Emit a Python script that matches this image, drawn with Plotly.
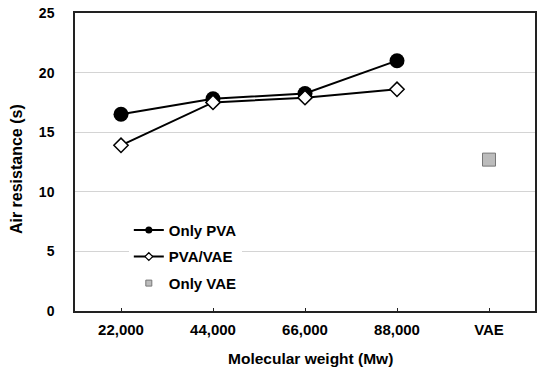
import plotly.graph_objects as go

categories = ["22,000", "44,000", "66,000", "88,000", "VAE"]
pva_x = ["22,000", "44,000", "66,000", "88,000"]
only_pva = [16.5, 17.8, 18.25, 21.0]
pva_vae = [13.9, 17.5, 17.9, 18.6]
vae_x = ["VAE"]
only_vae = [12.7]
y_ticks = [0, 5, 10, 15, 20, 25]

FONT = "Liberation Sans"

fig = go.Figure()

# plotted traces (legend handled by proxy traces below)
fig.add_trace(go.Scatter(x=pva_x, y=only_pva, mode="lines+markers", showlegend=False,
                         line=dict(color="black", width=2),
                         marker=dict(symbol="circle", size=15, color="black")))
fig.add_trace(go.Scatter(x=pva_x, y=pva_vae, mode="lines+markers", showlegend=False,
                         line=dict(color="black", width=2),
                         marker=dict(symbol="diamond", size=11, color="white",
                                     line=dict(color="black", width=1.5))))
fig.add_trace(go.Scatter(x=vae_x, y=only_vae, mode="markers", showlegend=False,
                         marker=dict(symbol="square", size=13, color="#bcbcbc",
                                     line=dict(color="#777777", width=1))))

# legend proxies with small symbols
fig.add_trace(go.Scatter(x=[None], y=[None], mode="lines+markers", name="Only PVA",
                         legendgroup="a",
                         line=dict(color="black", width=2),
                         marker=dict(symbol="circle", size=7, color="black")))
fig.add_trace(go.Scatter(x=[None], y=[None], mode="lines+markers", name="PVA/VAE",
                         legendgroup="b",
                         line=dict(color="black", width=2),
                         marker=dict(symbol="diamond", size=6, color="white",
                                     line=dict(color="black", width=1.2))))
fig.add_trace(go.Scatter(x=[None], y=[None], mode="markers", name="Only VAE",
                         legendgroup="c",
                         marker=dict(symbol="square", size=6, color="#bcbcbc",
                                     line=dict(color="#777777", width=1))))

fig.update_layout(
    width=541, height=367,
    margin=dict(l=75, r=4, t=13, b=56),
    paper_bgcolor="white", plot_bgcolor="white",
    font=dict(family=FONT, color="black", size=14),
    legend=dict(x=0.117, y=0.326, xanchor="left", yanchor="top",
                bgcolor="white", font=dict(family=FONT, size=15, color="black", weight="bold"),
                tracegroupgap=4, itemwidth=30),
    xaxis=dict(
        type="category", categoryorder="array", categoryarray=categories,
        range=[-0.5, 4.5],
        showline=True, linecolor="#222", linewidth=1.5, mirror=True,
        showgrid=False, ticks="inside", ticklen=3, tickcolor="#222",
        tickfont=dict(family=FONT, size=15, weight="bold"),
        ticklabelstandoff=4,
    ),
    yaxis=dict(
        range=[0, 25], tickvals=y_ticks,
        showline=True, linecolor="#222", linewidth=1.5, mirror=True,
        showgrid=True, gridcolor="#d4d4d4", gridwidth=1,
        zeroline=False, ticks="",
        tickfont=dict(family=FONT, size=14, weight="bold"),
        ticklabelstandoff=16,
    ),
    annotations=[
        dict(text="Molecular weight (Mw)", xref="paper", yref="paper",
             x=0.511, y=-0.158, xanchor="center", yanchor="middle", showarrow=False,
             font=dict(family=FONT, size=15.5, weight="bold", color="black")),
        dict(text="Air resistance (s)", xref="paper", yref="paper",
             x=-0.128, y=0.4765, xanchor="center", yanchor="middle", showarrow=False,
             textangle=-90,
             font=dict(family=FONT, size=16, weight="bold", color="black")),
    ],
)

fig.write_html("out.html")
